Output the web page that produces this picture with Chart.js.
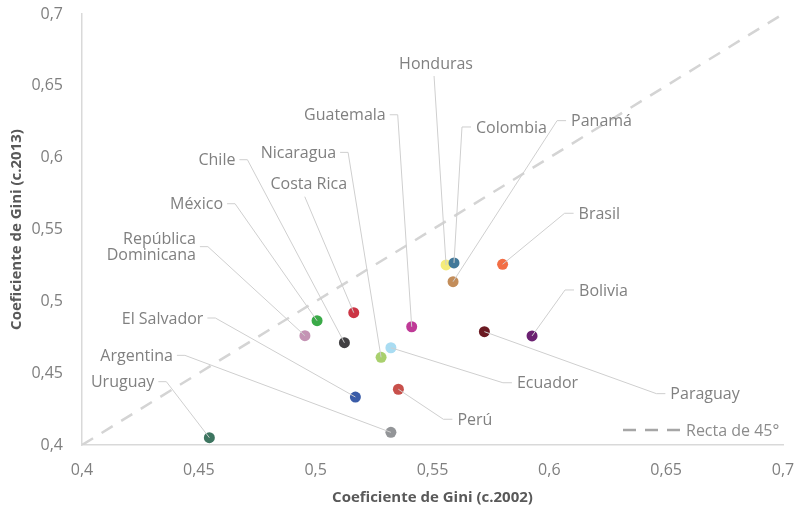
<!DOCTYPE html>
<html>
<head>
<meta charset="utf-8">
<script src="https://cdn.jsdelivr.net/npm/chart.js@4.4.0/dist/chart.umd.min.js"></script>
<style>
  html, body { margin: 0; padding: 0; background: #fff; }
</style>
</head>
<body>
<canvas id="giniChart" width="797" height="512"></canvas>
<script>
// datos
const countries = ['Uruguay', 'Argentina', 'El Salvador', 'Perú', 'Ecuador', 'Nicaragua', 'Chile', 'México',
  'República\nDominicana', 'Costa Rica', 'Guatemala', 'Honduras', 'Colombia', 'Panamá', 'Brasil', 'Bolivia', 'Paraguay'];
const gini2002 = [0.4545, 0.5322, 0.5170, 0.5354, 0.5322, 0.5280, 0.5123, 0.5006,
  0.4954, 0.5163, 0.5411, 0.5558, 0.5592, 0.5588, 0.5800, 0.5926, 0.5722];
const gini2013 = [0.4051, 0.4088, 0.4334, 0.4388, 0.4677, 0.4610, 0.4712, 0.4865,
  0.4761, 0.4921, 0.4823, 0.5253, 0.5267, 0.5137, 0.5258, 0.4759, 0.4789];
const pointColors = ['#3d7560', '#939598', '#3a5ca8', '#c8504b', '#a9dcf2', '#a9d06e', '#414042', '#3aaa48',
  '#c493b4', '#cc3545', '#bf3a97', '#f5ec7a', '#43799a', '#c38d5a', '#f26e45', '#6b2171', '#6b1a22'];
const diagonal = [0.4, 0.7];
const tickValues = [0.4, 0.45, 0.5, 0.55, 0.6, 0.65, 0.7];

// posicion de las etiquetas (desplazamiento en px desde el punto hasta el codo)
const labelLayout = [
  { side: 'left', dx: -43, dy: -56 },
  { side: 'left', dx: -206, dy: -77 },
  { side: 'left', dx: -140, dy: -79 },
  { side: 'right', dx: 45, dy: 30 },
  { side: 'right', dx: 112, dy: 35 },
  { side: 'left', dx: -33, dy: -205 },
  { side: 'left', dx: -97, dy: -183 },
  { side: 'left', dx: -82, dy: -117 },
  { side: 'left', dx: -97, dy: -89 },
  { side: 'top', dx: -49, dy: -116, tx: 4 },
  { side: 'left', dx: -14, dy: -212 },
  { side: 'top', dx: -12, dy: -189, tx: 2 },
  { side: 'right', dx: 8, dy: -136 },
  { side: 'right', dx: 104, dy: -161 },
  { side: 'right', dx: 62, dy: -51 },
  { side: 'right', dx: 33, dy: -46 },
  { side: 'right', dx: 172, dy: 62 }
];

const FONT = '"Open Sans", "DejaVu Sans", sans-serif';

const fmt = v => Number(v.toFixed(2)).toString().replace('.', ',');

const leaders = {
  id: 'leaders',
  afterDatasetsDraw(chart) {
    const ctx = chart.ctx;
    const meta = chart.getDatasetMeta(0);
    ctx.save();
    ctx.font = '16px ' + FONT;
    ctx.textBaseline = 'middle';
    ctx.lineWidth = 1;
    meta.data.forEach((pt, i) => {
      const L = labelLayout[i];
      const ex = pt.x + L.dx, ey = pt.y + L.dy;
      ctx.strokeStyle = '#cfcfcf';
      ctx.beginPath();
      ctx.moveTo(pt.x, pt.y);
      ctx.lineTo(ex, ey);
      if (L.side === 'right') ctx.lineTo(ex + 9, ey);
      if (L.side === 'left') ctx.lineTo(ex - 8, ey);
      ctx.stroke();

      ctx.fillStyle = '#808080';
      const lines = countries[i].split('\n');
      let tx = ex, ty = ey;
      if (L.side === 'right') { ctx.textAlign = 'left'; tx = ex + 14; }
      else if (L.side === 'left') { ctx.textAlign = 'right'; tx = ex - 12; }
      else { ctx.textAlign = 'center'; tx = ex + L.tx; ty = ey - 13; }
      const lh = 16;
      const y0 = ty - (lines.length - 1) * lh / 2 + 1;
      lines.forEach((t, k) => ctx.fillText(t, tx, y0 + k * lh));
    });
    ctx.restore();
  }
};

const legend45 = {
  id: 'legend45',
  afterDraw(chart) {
    const ctx = chart.ctx;
    const a = chart.chartArea;
    const y = a.bottom - 15;
    ctx.save();
    ctx.strokeStyle = '#a6a6a6';
    ctx.lineWidth = 2.5;
    ctx.setLineDash([13, 9]);
    ctx.beginPath();
    ctx.moveTo(a.right - 160, y);
    ctx.lineTo(a.right - 103, y);
    ctx.stroke();
    ctx.fillStyle = '#8c8c8c';
    ctx.font = '16px ' + FONT;
    ctx.textBaseline = 'middle';
    ctx.textAlign = 'left';
    ctx.fillText('Recta de 45°', a.right - 97, y + 1);
    ctx.restore();
  }
};

const giniChart = document.getElementById('giniChart');
new Chart(giniChart, {
  type: 'scatter',
  data: {
    datasets: [{
      label: 'Países',
      data: gini2002.map((x, i) => ({ x: x, y: gini2013[i] })),
      backgroundColor: pointColors,
      borderWidth: 0,
      pointRadius: 5.5,
      pointHoverRadius: 5.5
    }, {
      type: 'line',
      label: 'Recta de 45°',
      data: diagonal.map(v => ({ x: v, y: v })),
      borderColor: '#d4d4d4',
      borderWidth: 2.5,
      borderDash: [13, 10],
      pointRadius: 0,
      fill: false
    }]
  },
  options: {
    responsive: false,
    animation: false,
    layout: { padding: { top: 14, right: 14, left: 0, bottom: 0 } },
    plugins: {
      tooltip: { enabled: false },
      legend: { display: false }
    },
    scales: {
      x: {
        type: 'linear',
        min: 0.4,
        max: 0.7,
        afterBuildTicks: s => { s.ticks = tickValues.map(v => ({ value: v })); },
        afterFit: s => { s.height = 67; s.paddingLeft = 0; s.paddingRight = 0; },
        grid: { display: false },
        border: { color: '#d9d9d9', width: 1.5 },
        ticks: { callback: fmt, color: '#7f7f7f', font: { family: FONT, size: 16 }, padding: 8, maxRotation: 0 },
        title: {
          display: true,
          text: 'Coeficiente de Gini (c.2002)',
          color: '#595959',
          font: { family: FONT, size: 15, weight: 'bold' },
          padding: { top: 0, bottom: 5 }
        }
      },
      y: {
        type: 'linear',
        min: 0.4,
        max: 0.7,
        afterBuildTicks: s => { s.ticks = tickValues.map(v => ({ value: v })); },
        afterFit: s => { s.width = 82; s.paddingTop = 0; s.paddingBottom = 0; },
        grid: { display: false },
        border: { color: '#d9d9d9', width: 1.5 },
        ticks: { callback: fmt, color: '#7f7f7f', font: { family: FONT, size: 16 }, padding: 11 },
        title: {
          display: true,
          text: 'Coeficiente de Gini (c.2013)',
          color: '#595959',
          font: { family: FONT, size: 15, weight: 'bold' },
          padding: { top: 8, bottom: 0 }
        }
      }
    }
  },
  plugins: [leaders, legend45]
});
</script>
</body>
</html>
